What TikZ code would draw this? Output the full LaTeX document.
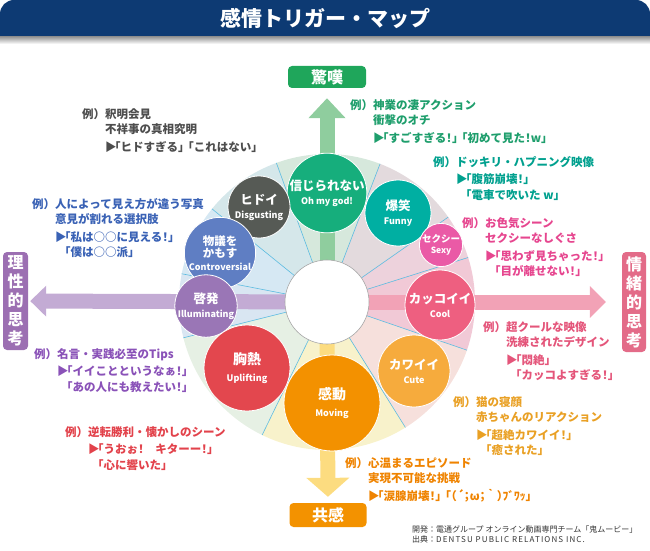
\documentclass[tikz,border=0pt]{standalone}
\usepackage{fontspec}
\setmainfont{Noto Sans CJK JP}
\newfontfamily\jphalt{Noto Sans CJK JP}[RawFeature=+halt]
\usetikzlibrary{arrows.meta}

\definecolor{titleblue}{HTML}{0D3A73}
% wheel sectors
\definecolor{ringA}{HTML}{D5E7EA}
\definecolor{ringB}{HTML}{D6E8DC}
\definecolor{ringC}{HTML}{E3DADD}
\definecolor{ringD}{HTML}{EDD2DC}
\definecolor{ringE}{HTML}{F1C9D6}
\definecolor{ringF}{HTML}{F6E0DC}
\definecolor{ringG}{HTML}{F8F2CB}
\definecolor{ringH}{HTML}{E6F0E4}
\definecolor{ringI}{HTML}{D9E6F2}
\definecolor{ringJ}{HTML}{D6E8F3}
\definecolor{divider}{HTML}{5BBBE0}
% arrows and boxes
\definecolor{upgreen}{HTML}{8FCD9E}
\definecolor{downyellow}{HTML}{FCDC80}
\definecolor{leftlav}{HTML}{C3ABD4}
\definecolor{rightpink}{HTML}{F2A2B6}
\definecolor{boxgreen}{HTML}{1FA65B}
\definecolor{boxorange}{HTML}{F39200}
\definecolor{boxpurple}{HTML}{9C6FB2}
\definecolor{boxpink}{HTML}{E36B88}
% circles
\definecolor{cOmg}{HTML}{16AE7C}
\definecolor{cFunny}{HTML}{00AFA2}
\definecolor{cDisg}{HTML}{565A55}
\definecolor{cContro}{HTML}{5F7EC3}
\definecolor{cIllum}{HTML}{9A76B6}
\definecolor{cUplift}{HTML}{E3474E}
\definecolor{cMoving}{HTML}{F39100}
\definecolor{cCute}{HTML}{F6AB3D}
\definecolor{cCool}{HTML}{EE5F80}
\definecolor{cSexy}{HTML}{EA5AA6}
% example texts
\definecolor{txgray}{HTML}{4D4D4D}
\definecolor{txblue}{HTML}{3A62B5}
\definecolor{txpurple}{HTML}{8A52B8}
\definecolor{txred}{HTML}{E2424B}
\definecolor{txgreen}{HTML}{1E9E6C}
\definecolor{txteal}{HTML}{00A08E}
\definecolor{txpink}{HTML}{E6468F}
\definecolor{txrose}{HTML}{E4557A}
\definecolor{txamber}{HTML}{E9A024}
\definecolor{txorange}{HTML}{EF8300}

\newcommand{\ename}[1]{{\fontsize{9}{11}\selectfont #1}}
\newcommand{\ind}{\hspace*{2em}}
\newcommand{\tri}{▶\hspace{-0.15em}}
\newcommand{\say}[1]{{\jphalt #1}}
\newcommand{\gap}{\hspace{0.35em}}

\begin{document}
\begin{tikzpicture}[x=1pt,y=1pt,
  emo/.style={circle,draw=white,line width=0.8pt,text=white,align=center,inner sep=0pt,
    font=\bfseries\fontsize{12.5}{14}\selectfont},
  axisbox/.style={rounded corners=4pt,text=white,inner sep=0pt,
    font=\bfseries\fontsize{16}{19}\selectfont},
  ex/.style={anchor=north west,align=left,inner sep=0pt,
    font=\bfseries\fontsize{11.5}{15.5}\selectfont},
  shaft/.style={line width=15pt}]

\useasboundingbox (0,0) rectangle (650,550);

% title bar
\shade[top color=black!45,bottom color=white] (0,506) rectangle (650,514);
\fill[titleblue,rounded corners=14pt] (0,514) rectangle (650,550);
\fill[titleblue] (0,514) rectangle (650,530);
\node[text=white,font=\bfseries\fontsize{21}{25}\selectfont] (ttl) at (325,532) {感情トリガー・マップ};

% wheel
\coordinate (hub) at (327,248);
\foreach \a/\b/\c in {110/141/ringA,69/110/ringB,35/69/ringC,17.5/35/ringD,-19/17.5/ringE,
    -58/-19/ringF,-116/-58/ringG,-166/-116/ringH,169/194/ringI,141/169/ringJ}
  \fill[\c] (hub) -- ++(\a:148pt) arc[start angle=\a,end angle=\b,radius=148pt] -- cycle;
\foreach \a in {69,35,17.5,-19,-58,-116,-166,169,141,110}
  \draw[divider,line width=0.6pt] (hub) -- ++(\a:148pt);

% axis boxes
\node[axisbox,fill=boxgreen,minimum width=78pt,minimum height=22pt] (wonder) at (327,473) {驚嘆};
\node[axisbox,fill=boxorange,minimum width=77pt,minimum height=24pt] (empathy) at (328,35) {共感};
\node[axisbox,fill=boxpurple,minimum width=25pt,minimum height=98pt,align=center] (logic) at (15.5,249) {理\\性\\的\\思\\考};
\node[axisbox,fill=boxpink,minimum width=24pt,minimum height=100pt,align=center] (feeling) at (634,248) {情\\緒\\的\\思\\考};

% axis arrows
\draw[shaft,upgreen,-{Triangle[width=36pt,length=20pt]},shorten >=10pt] (hub) -- (wonder);
\draw[shaft,downyellow,-{Triangle[width=42pt,length=19pt]},shorten >=6pt] (hub) -- (empathy);
\draw[shaft,leftlav,-{Triangle[width=30pt,length=16pt]},shorten >=2pt] (hub) -- (logic);
\draw[shaft,rightpink,-{Triangle[width=31pt,length=16pt]},shorten >=16pt] (hub) -- (feeling);

\node[circle,fill=white,draw=black!35,line width=0.6pt,minimum size=84pt,inner sep=0pt] (core) at (hub) {};

% emotions
\node[emo,fill=cOmg,minimum size=74pt] (omg) at (327,357) {信じられない\\\ename{Oh my god!}};
\node[emo,fill=cFunny,minimum size=66pt] (funny) at (398,337) {爆笑\\\ename{Funny}};
\node[emo,fill=cDisg,minimum size=62pt] (disg) at (259,343) {ヒドイ\\\ename{Disgusting}};
\node[emo,fill=cContro,minimum size=56pt,font=\bfseries\fontsize{11.5}{12.5}\selectfont] (contro) at (220,297) {物議を\\かもす\\\ename{Controversial}};
\node[emo,fill=cIllum,minimum size=52pt] (illum) at (206,244) {啓発\\\ename{Illuminating}};
\node[emo,fill=cUplift,minimum size=86pt,font=\bfseries\fontsize{14}{17}\selectfont] (uplift) at (247,182) {胸熱\\\ename{Uplifting}};
\node[emo,fill=cMoving,minimum size=96pt,font=\bfseries\fontsize{14}{17}\selectfont] (moving) at (332,147) {感動\\\ename{Moving}};
\node[emo,fill=cCute,minimum size=72pt] (cute) at (414,179) {カワイイ\\\ename{Cute}};
\node[emo,fill=cCool,minimum size=70pt] (cool) at (440,245) {カッコイイ\\\ename{Cool}};
\node[emo,fill=cSexy,minimum size=40pt,font=\bfseries\fontsize{9.5}{11}\selectfont] (sexy) at (441,305) {セクシー\\{\fontsize{8.5}{10}\selectfont Sexy}};

% examples
\node[ex,text=txgray] (exdisg) at (82,442) {例）釈明会見\\
  \ind 不祥事の真相究明\\[2pt]
  \ind \tri\say{「ヒドすぎる」\gap「これはない」}};
\node[ex,text=txblue] (excontro) at (32,352) {例）人によって見え方が違う写真\\
  \ind 意見が割れる選択肢\\[2pt]
  \ind \tri\say{「私は○○に見える！」}\\
  \ind\phantom{\tri}\say{「僕は○○派」}};
\node[ex,text=txpurple] (exillum) at (34,202) {例）名言・実践必至のTips\\[2pt]
  \ind \tri\say{「イイことというなぁ！」}\\
  \ind\phantom{\tri}\say{「あの人にも教えたい！」}};
\node[ex,text=txred] (exuplift) at (65,124) {例）逆転勝利・懐かしのシーン\\[2pt]
  \ind \tri\say{「うおぉ！　キターー！」}\\
  \ind\phantom{\tri}\say{「心に響いた」}};
\node[ex,text=txgreen] (exomg) at (350,451) {例）神業の凄アクション\\
  \ind 衝撃のオチ\\[2pt]
  \ind \tri\say{「すごすぎる！」\gap「初めて見た！w」}};
\node[ex,text=txteal] (exfunny) at (433,394) {例）ドッキリ・ハプニング映像\\[2pt]
  \ind \tri\say{「腹筋崩壊！」}\\
  \ind\phantom{\tri}\say{「電車で吹いた w」}};
\node[ex,text=txpink] (exsexy) at (462,333) {例）お色気シーン\\
  \ind セクシーなしぐさ\\[2pt]
  \ind \tri\say{「思わず見ちゃった！」}\\
  \ind\phantom{\tri}\say{「目が離せない！」}};
\node[ex,text=txrose] (excool) at (483,229) {例）超クールな映像\\
  \ind 洗練されたデザイン\\[2pt]
  \ind \tri\say{「悶絶」}\\
  \ind\phantom{\tri}\say{「カッコよすぎる！」}};
\node[ex,text=txamber] (excute) at (453,154) {例）猫の寝顔\\
  \ind 赤ちゃんのリアクション\\[2pt]
  \ind \tri\say{「超絶カワイイ！」}\\
  \ind\phantom{\tri}\say{「癒された」}};
\node[ex,text=txorange] (exmoving) at (345,93) {例）心温まるエピソード\\
  \ind 実現不可能な挑戦\\[2pt]
  \ind \tri\say{「涙腺崩壊！」\gap「（´；ω；｀）ﾌﾞﾜｯ」}};

% credits
\node[anchor=north west,align=left,inner sep=0pt,text=black!80,font=\fontsize{8}{9.5}\selectfont] (credit) at (412,24)
  {開発：電通グループ オンライン動画専門チーム「鬼ムービー」\\
   出典：{\addfontfeature{LetterSpace=14}DENTSU PUBLIC RELATIONS INC.}};
\end{tikzpicture}
\end{document}
